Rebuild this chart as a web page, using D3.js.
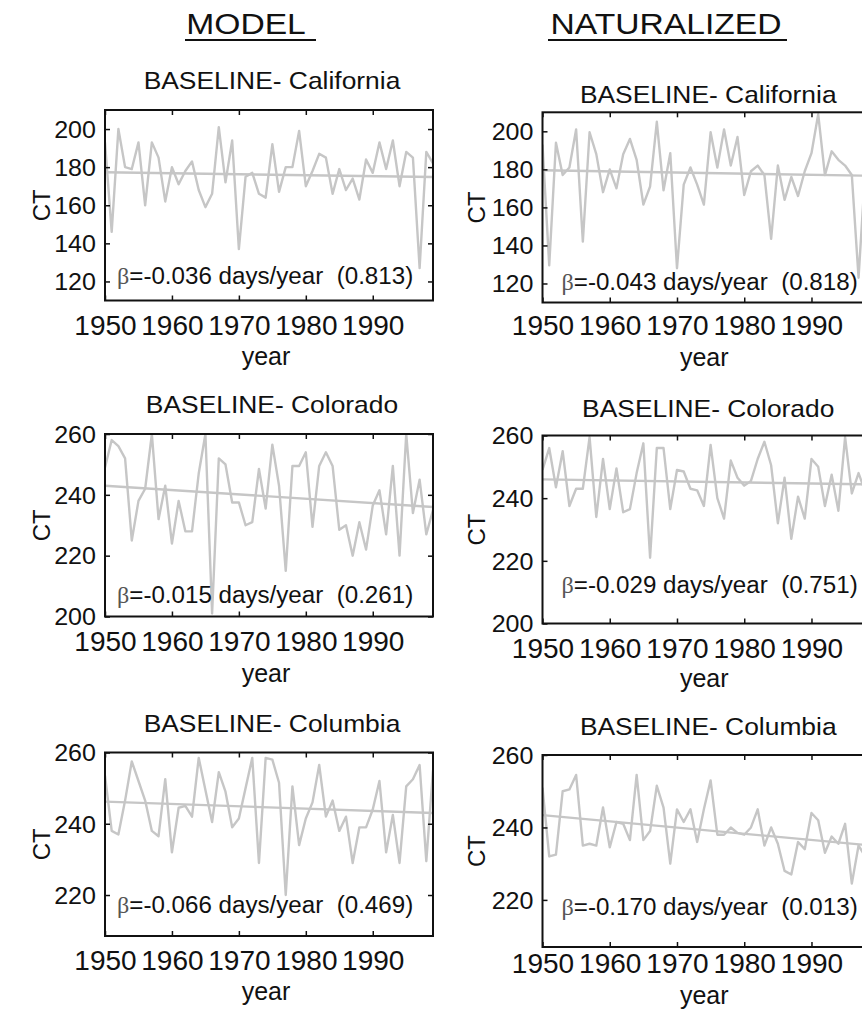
<!DOCTYPE html>
<html><head><meta charset="utf-8">
<script src="https://cdn.jsdelivr.net/npm/d3@7"></script>
<style>
html,body{margin:0;padding:0;background:#fff;overflow:hidden}
svg{display:block;background:#fff}
text{font-family:"Liberation Sans",Arial,Helvetica,sans-serif;fill:#111}
</style></head><body>
<svg id="chart" width="862" height="1012"></svg>
<script>
// ---------- data ----------
const years = d3.range(1950, 2000);
const xTicks = [1950, 1960, 1970, 1980, 1990];
const regions = ["California", "Colorado", "Columbia"];
const columnHeads = ["MODEL", "NATURALIZED"];

const modelCalifornia = [193,146,200,180,179,193,160,193,185,162,180,171,178,183,168,159,166,201,172,194,137,175,177,166,164,192,167,180,180,199,170,178,187,185,166,179,168,174,163,184,177,193,179,194,170,188,185,127,188,182];
const modelColorado = [249,258,256,252,225,238,242,260,232,243,224,238,228,228,247,260,201,252,250,237.5,237.5,230,231,248.5,235.5,256.5,243,215,249.5,249.5,254,229.5,249.5,254,249.5,228.5,230,220,231,222,236.5,241.5,227,249.5,220,260,234,245,227,235];
const modelColumbia = [253.5,238,237,246.5,257.5,252,246.5,238,236.5,252.5,232,244.5,245,242,258.5,249.5,240.5,254.5,249,239,241.5,250,258.5,229,258.5,258,251.5,220,250.5,234,241.5,246,256.5,242,246.5,238,242,229,239,239,244,252,232,242.5,229,250.5,252.5,256.5,229.5,255];

const natCalifornia = [193,129.5,194,177,181,201,142,199.5,188,168,180,170,188,196,185,161.5,171,205,169,188.5,128,172,181,172,161.5,199.5,181,201,182,197,166.5,179,182,177,143.5,182,164,176,166,179,188.5,209,177,189.5,185,182,177,123,180,178];
const natColorado = [249,256,243.5,255,237.5,243,243,259.5,234,252.5,236.5,249.5,235.5,236.5,248,257.5,221,256,256,236.5,249,248.5,243,242.5,237.5,257,240,233.5,252,246.5,244,245.5,252.5,258,250.5,232,246.5,227,240.5,233.5,252.5,250,237.5,247.5,236,259.5,241.5,248,242,245];
const natColumbia = [251,232,232.5,250,250.5,254.5,235,235.5,235,245.5,234.5,241.5,241,236.5,254.5,236.5,239,251.5,245.5,230,245,241.5,245,236,245,253,238,238,240,238.5,238,240,245,235,240,235.5,228,227,236,234,244,242,233,237.5,235.5,241,224.5,235,232,238];

// fitted trend line, value at 1950 and at 1999
const modelTrendStart = [177.3, 243, 246.2];
const modelTrendEnd = [174.8, 236, 243];
const natTrendStart = [179.5, 246, 243.4];
const natTrendEnd = [176.6, 244.4, 235];

const modelBeta = ["-0.036", "-0.015", "-0.066"];
const modelP = ["0.813", "0.261", "0.469"];
const natBeta = ["-0.043", "-0.029", "-0.170"];
const natP = ["0.818", "0.751", "0.013"];

const yTicksByRow = [[120,140,160,180,200],[200,220,240,260],[220,240,260]];
const modelDomains = [[110,210],[200,260],[208.5,260]];
const natDomains = [[110,210],[200,260],[207,260]];

// ---------- layout ----------
const layout = [
  {x0:105,   x1:433, top:110,   bottom:300.5, titleY:89,    betaY:284, tickY:335, yearY:365},
  {x0:105,   x1:433, top:434,   bottom:616.5, titleY:413,   betaY:603, tickY:651, yearY:682},
  {x0:105,   x1:433, top:752.5, bottom:936,   titleY:731.5, betaY:913, tickY:970, yearY:1000},
  {x0:542.5, x1:872, top:112.3, bottom:302.5, titleY:103,   betaY:290, tickY:335, yearY:366},
  {x0:542.5, x1:872, top:435.5, bottom:623.5, titleY:417,   betaY:593, tickY:658, yearY:687},
  {x0:542.5, x1:872, top:755,   bottom:947,   titleY:735,   betaY:915, tickY:973, yearY:1004}
];
const colStyle = [
  {titleDx:3, betaDx:12, ctX:41,  yearDx:-3},
  {titleDx:1, betaDx:19, ctX:476, yearDx:-3}
];

const panels = [];
const modelSeries = [modelCalifornia, modelColorado, modelColumbia];
const natSeries = [natCalifornia, natColorado, natColumbia];
[0,1,2].forEach(r => panels.push({col:0, row:r, values:modelSeries[r], domain:modelDomains[r],
  trend:[modelTrendStart[r], modelTrendEnd[r]], beta:modelBeta[r], p:modelP[r]}));
[0,1,2].forEach(r => panels.push({col:1, row:r, values:natSeries[r], domain:natDomains[r],
  trend:[natTrendStart[r], natTrendEnd[r]], beta:natBeta[r], p:natP[r]}));

// ---------- drawing ----------
const svg = d3.select("#chart");
const lineColor = "#c6c6c6";
const ink = "#111";

function stretchedText(g, x, y, str, size, sx, anchor) {
  return g.append("text")
    .attr("transform", `translate(${x},${y}) scale(${sx},1)`)
    .attr("text-anchor", anchor || "middle")
    .style("font-size", size + "px")
    .text(str);
}

// column headers
const headX = [246, 666];
const headUnderline = [[185, 316], [548, 787]];
columnHeads.forEach((h, i) => {
  stretchedText(svg, headX[i], 34, h, 29, 1.16, "middle");
  svg.append("line")
    .attr("x1", headUnderline[i][0]).attr("x2", headUnderline[i][1])
    .attr("y1", 40).attr("y2", 40)
    .attr("stroke", ink).attr("stroke-width", 2);
});

panels.forEach((p, k) => {
  const L = layout[k];
  const C = colStyle[p.col];
  const x = d3.scaleLinear().domain([years[0], years[years.length - 1]]).range([L.x0, L.x1]);
  const y = d3.scaleLinear().domain(p.domain).range([L.bottom, L.top]);
  const g = svg.append("g");
  const clipId = "clip" + k;
  g.append("clipPath").attr("id", clipId).append("rect")
    .attr("x", L.x0).attr("y", L.top).attr("width", L.x1 - L.x0).attr("height", L.bottom - L.top);

  const line = d3.line().x((d, i) => x(years[i])).y(d => y(d));
  g.append("path").datum(p.values)
    .attr("clip-path", `url(#${clipId})`)
    .attr("d", line)
    .attr("fill", "none").attr("stroke", lineColor)
    .attr("stroke-width", 2.4).attr("stroke-linejoin", "round");

  const trendPts = [[years[0], p.trend[0]], [years[years.length - 1], p.trend[1]]];
  g.append("path").datum(trendPts)
    .attr("clip-path", `url(#${clipId})`)
    .attr("d", d3.line().x(d => x(d[0])).y(d => y(d[1])))
    .attr("fill", "none").attr("stroke", lineColor).attr("stroke-width", 2.4);

  // axes with inward ticks on all four sides
  const yTicks = yTicksByRow[p.row];
  const gb = g.append("g").attr("transform", `translate(0,${L.bottom})`)
    .call(d3.axisBottom(x).tickValues(xTicks).tickFormat(d3.format("d")).tickSizeInner(-5).tickSizeOuter(0));
  const gt = g.append("g").attr("transform", `translate(0,${L.top})`)
    .call(d3.axisTop(x).tickValues(xTicks).tickFormat("").tickSizeInner(-5).tickSizeOuter(0));
  const gl = g.append("g").attr("transform", `translate(${L.x0},0)`)
    .call(d3.axisLeft(y).tickValues(yTicks).tickSizeInner(-5).tickSizeOuter(0));
  const gr = g.append("g").attr("transform", `translate(${L.x1},0)`)
    .call(d3.axisRight(y).tickValues(yTicks).tickFormat("").tickSizeInner(-5).tickSizeOuter(0));
  [gb, gt, gl, gr].forEach(a => {
    a.select(".domain").remove();
    a.selectAll(".tick line").attr("stroke", ink).attr("stroke-width", 1.5);
    a.attr("font-family", null).attr("font-size", null);
  });
  gt.selectAll("text").remove();
  gr.selectAll("text").remove();
  gb.selectAll("text")
    .attr("y", L.tickY - L.bottom).attr("dy", null)
    .style("font-size", "28px");
  gl.selectAll("text")
    .attr("x", null)
    .attr("transform", "translate(-9,0) scale(1.09,1)")
    .attr("dy", "0.36em")
    .style("font-size", "23px");

  // frame
  g.append("rect")
    .attr("x", L.x0).attr("y", L.top)
    .attr("width", L.x1 - L.x0).attr("height", L.bottom - L.top)
    .attr("fill", "none").attr("stroke", ink).attr("stroke-width", 2);

  // title
  stretchedText(g, (L.x0 + L.x1) / 2 + C.titleDx, L.titleY, "BASELINE- " + regions[p.row], 24, 1.1, "middle");

  // beta annotation
  const bt = g.append("text")
    .attr("transform", `translate(${L.x0 + C.betaDx},${L.betaY}) scale(1.05,1)`)
    .style("font-size", "23px").style("white-space", "pre");
  bt.append("tspan").style("font-family", '"Liberation Serif","DejaVu Serif",serif').style("fill", "#555").text("β");
  bt.append("tspan").text(`=${p.beta} days/year  (${p.p})`);

  // axis labels
  g.append("text")
    .attr("x", (L.x0 + L.x1) / 2 + C.yearDx).attr("y", L.yearY)
    .attr("text-anchor", "middle").style("font-size", "25px").text("year");
  g.append("text")
    .attr("transform", `translate(${C.ctX},${(L.top + L.bottom) / 2}) rotate(-90)`)
    .attr("text-anchor", "middle").attr("dy", "0.36em")
    .style("font-size", "24px").text("CT");
});
</script>
</body></html>
